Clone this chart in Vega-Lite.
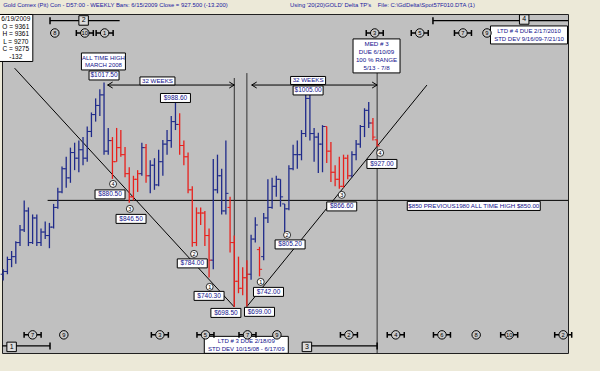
{
"$schema":"https://vega.github.io/schema/vega-lite/v6.json",
"width":566,"height":339,
"autosize":{"type":"none"},
"padding":{"left":2,"top":14,"right":32,"bottom":18},
"background":"#ece9d8",
"config":{"view":{"fill":"#c0c0c0","stroke":"#202020"},"font":"Liberation Sans"},
"datasets":{
"ohlc":[
{"date":"2007-10-05","open":745,"high":752,"low":736,"close":749,"trend":"up"},
{"date":"2007-10-12","open":749,"high":770,"low":745,"close":766,"trend":"up"},
{"date":"2007-10-19","open":766,"high":778,"low":755,"close":770,"trend":"up"},
{"date":"2007-10-26","open":770,"high":792,"low":760,"close":790,"trend":"up"},
{"date":"2007-11-02","open":790,"high":815,"low":785,"close":808,"trend":"up"},
{"date":"2007-11-09","open":808,"high":850,"low":805,"close":835,"trend":"up"},
{"date":"2007-11-16","open":835,"high":840,"low":785,"close":790,"trend":"up"},
{"date":"2007-11-23","open":790,"high":830,"low":788,"close":825,"trend":"up"},
{"date":"2007-11-30","open":825,"high":830,"low":785,"close":790,"trend":"up"},
{"date":"2007-12-07","open":790,"high":810,"low":785,"close":805,"trend":"up"},
{"date":"2007-12-14","open":805,"high":820,"low":795,"close":800,"trend":"up"},
{"date":"2007-12-21","open":800,"high":818,"low":782,"close":812,"trend":"up"},
{"date":"2007-12-28","open":812,"high":845,"low":810,"close":840,"trend":"up"},
{"date":"2008-01-04","open":840,"high":868,"low":838,"close":862,"trend":"up"},
{"date":"2008-01-11","open":862,"high":898,"low":860,"close":895,"trend":"up"},
{"date":"2008-01-18","open":895,"high":912,"low":868,"close":882,"trend":"up"},
{"date":"2008-01-25","open":882,"high":925,"low":875,"close":918,"trend":"up"},
{"date":"2008-02-01","open":918,"high":932,"low":893,"close":910,"trend":"up"},
{"date":"2008-02-08","open":910,"high":935,"low":890,"close":922,"trend":"up"},
{"date":"2008-02-15","open":922,"high":940,"low":900,"close":910,"trend":"up"},
{"date":"2008-02-22","open":910,"high":955,"low":905,"close":948,"trend":"up"},
{"date":"2008-02-29","open":948,"high":975,"low":940,"close":972,"trend":"up"},
{"date":"2008-03-07","open":972,"high":995,"low":962,"close":985,"trend":"up"},
{"date":"2008-03-14","open":985,"high":1008,"low":970,"close":1000,"trend":"up"},
{"date":"2008-03-21","open":1000,"high":1017.5,"low":915,"close":920,"trend":"up"},
{"date":"2008-03-28","open":920,"high":953,"low":915,"close":935,"trend":"up"},
{"date":"2008-04-04","open":935,"high":940,"low":880.5,"close":905,"trend":"down"},
{"date":"2008-04-11","open":905,"high":953,"low":905,"close":925,"trend":"down"},
{"date":"2008-04-18","open":925,"high":950,"low":912,"close":915,"trend":"down"},
{"date":"2008-04-25","open":915,"high":926,"low":883,"close":888,"trend":"down"},
{"date":"2008-05-02","open":888,"high":897,"low":846.5,"close":855,"trend":"down"},
{"date":"2008-05-09","open":855,"high":885,"low":850,"close":880,"trend":"down"},
{"date":"2008-05-16","open":880,"high":893,"low":862,"close":888,"trend":"down"},
{"date":"2008-05-23","open":888,"high":932,"low":885,"close":925,"trend":"up"},
{"date":"2008-05-30","open":925,"high":930,"low":875,"close":885,"trend":"down"},
{"date":"2008-06-06","open":885,"high":907,"low":860,"close":900,"trend":"up"},
{"date":"2008-06-13","open":900,"high":910,"low":865,"close":872,"trend":"up"},
{"date":"2008-06-20","open":872,"high":922,"low":870,"close":905,"trend":"up"},
{"date":"2008-06-27","open":905,"high":936,"low":885,"close":930,"trend":"up"},
{"date":"2008-07-04","open":930,"high":950,"low":915,"close":935,"trend":"up"},
{"date":"2008-07-11","open":935,"high":970,"low":925,"close":962,"trend":"up"},
{"date":"2008-07-18","open":962,"high":988.6,"low":950,"close":958,"trend":"up"},
{"date":"2008-07-25","open":958,"high":974,"low":915,"close":928,"trend":"down"},
{"date":"2008-08-01","open":928,"high":935,"low":900,"close":912,"trend":"down"},
{"date":"2008-08-08","open":912,"high":918,"low":860,"close":865,"trend":"down"},
{"date":"2008-08-15","open":865,"high":870,"low":784,"close":790,"trend":"down"},
{"date":"2008-08-22","open":790,"high":840,"low":785,"close":832,"trend":"down"},
{"date":"2008-08-29","open":832,"high":840,"low":815,"close":832,"trend":"down"},
{"date":"2008-09-05","open":832,"high":835,"low":785,"close":800,"trend":"down"},
{"date":"2008-09-12","open":800,"high":810,"low":740.3,"close":765,"trend":"down"},
{"date":"2008-09-19","open":765,"high":909,"low":752,"close":865,"trend":"up"},
{"date":"2008-09-26","open":865,"high":915,"low":860,"close":885,"trend":"up"},
{"date":"2008-10-03","open":885,"high":895,"low":830,"close":835,"trend":"up"},
{"date":"2008-10-10","open":835,"high":935,"low":830,"close":860,"trend":"up"},
{"date":"2008-10-17","open":840,"high":855,"low":776,"close":790,"trend":"down"},
{"date":"2008-10-24","open":790,"high":800,"low":698.5,"close":735,"trend":"down"},
{"date":"2008-10-31","open":735,"high":770,"low":718,"close":725,"trend":"down"},
{"date":"2008-11-07","open":725,"high":755,"low":715,"close":740,"trend":"down"},
{"date":"2008-11-14","open":740,"high":765,"low":699,"close":745,"trend":"down"},
{"date":"2008-11-21","open":745,"high":801,"low":737,"close":795,"trend":"up"},
{"date":"2008-11-28","open":795,"high":826,"low":790,"close":815,"trend":"up"},
{"date":"2008-12-05","open":780,"high":784,"low":742,"close":752,"trend":"down"},
{"date":"2008-12-12","open":770,"high":832,"low":765,"close":825,"trend":"up"},
{"date":"2008-12-19","open":825,"high":880,"low":818,"close":840,"trend":"up"},
{"date":"2008-12-26","open":840,"high":882,"low":838,"close":870,"trend":"up"},
{"date":"2009-01-02","open":870,"high":885,"low":855,"close":880,"trend":"up"},
{"date":"2009-01-09","open":880,"high":880,"low":841,"close":855,"trend":"up"},
{"date":"2009-01-16","open":845,"high":845,"low":805.2,"close":838,"trend":"up"},
{"date":"2009-01-23","open":838,"high":900,"low":836,"close":895,"trend":"up"},
{"date":"2009-01-30","open":895,"high":929,"low":893,"close":915,"trend":"up"},
{"date":"2009-02-06","open":915,"high":935,"low":895,"close":915,"trend":"up"},
{"date":"2009-02-13","open":915,"high":950,"low":907,"close":945,"trend":"up"},
{"date":"2009-02-20","open":945,"high":1005,"low":940,"close":995,"trend":"up"},
{"date":"2009-02-27","open":995,"high":1000,"low":935,"close":945,"trend":"up"},
{"date":"2009-03-06","open":945,"high":953,"low":905,"close":940,"trend":"up"},
{"date":"2009-03-13","open":940,"high":946,"low":889,"close":930,"trend":"up"},
{"date":"2009-03-20","open":930,"high":957,"low":890,"close":955,"trend":"up"},
{"date":"2009-03-27","open":955,"high":955,"low":903,"close":920,"trend":"down"},
{"date":"2009-04-03","open":920,"high":933,"low":876,"close":890,"trend":"down"},
{"date":"2009-04-10","open":890,"high":900,"low":870,"close":880,"trend":"down"},
{"date":"2009-04-17","open":880,"high":912,"low":866.6,"close":870,"trend":"down"},
{"date":"2009-04-24","open":870,"high":915,"low":868,"close":910,"trend":"down"},
{"date":"2009-05-01","open":910,"high":915,"low":880,"close":885,"trend":"down"},
{"date":"2009-05-08","open":885,"high":920,"low":883,"close":915,"trend":"up"},
{"date":"2009-05-15","open":915,"high":936,"low":907,"close":930,"trend":"up"},
{"date":"2009-05-22","open":930,"high":957,"low":925,"close":955,"trend":"up"},
{"date":"2009-05-29","open":955,"high":981,"low":940,"close":978,"trend":"up"},
{"date":"2009-06-05","open":978,"high":990,"low":953,"close":960,"trend":"up"},
{"date":"2009-06-12","open":960,"high":967,"low":935,"close":940,"trend":"down"},
{"date":"2009-06-19","open":936.1,"high":936.1,"low":927,"close":927.5,"trend":"down"}
],
"pivotLabels":[
{"label":"$1017.50","date":"2008-03-21","price":1027.6},
{"label":"$988.60","date":"2008-07-18","price":995.6},
{"label":"$880.50","date":"2008-03-31","price":858.5},
{"label":"$846.50","date":"2008-05-05","price":823.7},
{"label":"$784.00","date":"2008-08-15","price":760.4},
{"label":"$740.30","date":"2008-09-12","price":714.2},
{"label":"$698.50","date":"2008-10-10","price":690.0},
{"label":"$699.00","date":"2008-12-05","price":691.5},
{"label":"$742.00","date":"2008-12-20","price":719.9},
{"label":"$805.20","date":"2009-01-25","price":787.4},
{"label":"$866.60","date":"2009-04-21","price":841.4},
{"label":"$927.00","date":"2009-06-27","price":901.8},
{"label":"$1005.00","date":"2009-02-24","price":1006.3}
],
"pivots":[
{"n":"4","date":"2008-04-05","price":873.4},
{"n":"3","date":"2008-05-03","price":837.9},
{"n":"2","date":"2008-08-18","price":773.9},
{"n":"1","date":"2008-09-13","price":727.0},
{"n":"1","date":"2008-12-07","price":734.1},
{"n":"2","date":"2009-01-20","price":800.9},
{"n":"3","date":"2009-04-21","price":857.8},
{"n":"4","date":"2009-06-24","price":917.5}
],
"notes":[
{"id":"ath","lines":2,"text":"ALL TIME HIGH\nMARCH 2008","date":"2008-03-20","price":1047.5},
{"id":"weeks","lines":1,"text":"32 WEEKS","date":"2008-06-18","price":1019.8},
{"id":"weeks","lines":1,"text":"32 WEEKS","date":"2009-02-24","price":1020.5},
{"id":"med","lines":4,"text":"MED # 3\nDUE 6/10/09\n100 % RANGE\n5/13 - 7/8","date":"2009-06-18","price":1055.4},
{"id":"ltd4","lines":2,"text":"LTD # 4 DUE 2/17/2010\nSTD DEV 9/16/09-7/21/10","date":"2010-02-27","price":1085.2},
{"id":"ltd3","lines":2,"text":"LTD # 3 DUE 2/18/09\nSTD DEV 10/15/08 - 6/17/09","date":"2008-11-13","price":644.6},
{"id":"prev","lines":1,"text":"$850 PREVIOUS1980 ALL TIME HIGH $850.00","date":"2009-11-27","price":842.1}
],
"info":[{"text":"6/19/2009\nO = 9361\nH = 9361\nL = 9270\nC = 9275\n-132","date":"2007-10-26","price":1080.9}],
"header":[
{"text":"Gold Comex (Pit) Con - D57:00 - WEEKLY Bars: 6/15/2009 Close = 927.500 (-13.200)","date":"2007-10-05","price":1127.8},
{"text":"Using '20(20)GOLD' Delta TP's","date":"2009-01-25","price":1127.8},
{"text":"File: C:\\GdDelta\\Spot57F010.DTA (1)","date":"2009-06-20","price":1127.8}
],
"trendlines":[
{"leg":"decline","date":"2007-10-24","price":1038},
{"leg":"decline","date":"2008-10-24","price":698.5},
{"leg":"advance","date":"2008-11-14","price":699},
{"leg":"advance","date":"2009-09-10","price":1014}
],
"levels":[{"date":"2007-12-18","date2":"2010-05-03","price":850}],
"verticals":[
{"date":"2008-10-24","price":1024,"price2":698.5},
{"date":"2008-11-14","price":1031,"price2":699},
{"date":"2009-06-19","price":1032,"price2":633}
],
"spans":[
{"date":"2008-03-27","date2":"2008-10-24","price":1014},
{"date":"2008-11-22","date2":"2009-06-19","price":1014}
],
"arrowHeads":[
{"date":"2008-03-27","price":1014,"dir":"left"},
{"date":"2008-10-24","price":1014,"dir":"right"},
{"date":"2008-11-22","price":1014,"dir":"left"},
{"date":"2009-06-19","price":1014,"dir":"right"}
],
"cycles":[
{"n":"8","date":"2007-12-30","price":1088,"kind":"mark"},
{"n":"10","date":"2008-02-18","price":1088,"kind":"span"},
{"n":"1","date":"2008-03-22","price":1088,"kind":"span"},
{"n":"3","date":"2009-06-15","price":1088,"kind":"span"},
{"n":"5","date":"2009-08-29","price":1088,"kind":"span"},
{"n":"7","date":"2009-11-09","price":1088,"kind":"span"},
{"n":"9","date":"2009-12-19","price":1088,"kind":"mark"},
{"n":"7","date":"2007-11-23","price":658.8,"kind":"span"},
{"n":"9","date":"2008-01-14","price":658.8,"kind":"mark"},
{"n":"3","date":"2008-06-22","price":658.8,"kind":"span"},
{"n":"5","date":"2008-09-06","price":658.8,"kind":"span"},
{"n":"7","date":"2008-11-15","price":658.8,"kind":"span"},
{"n":"9","date":"2009-01-03","price":658.8,"kind":"mark"},
{"n":"2","date":"2009-05-03","price":658.8,"kind":"span"},
{"n":"4","date":"2009-07-20","price":658.8,"kind":"span"},
{"n":"6","date":"2009-10-05","price":658.8,"kind":"span"},
{"n":"8","date":"2009-12-01","price":658.8,"kind":"mark"},
{"n":"10","date":"2010-01-25","price":658.8,"kind":"span"},
{"n":"2","date":"2010-04-25","price":658.8,"kind":"span"}
],
"cycleBoxes":[
{"n":"2","date":"2008-02-16","price":1105.8},
{"n":"4","date":"2010-02-19","price":1107.2},
{"n":"1","date":"2007-10-19","price":641.7},
{"n":"3","date":"2009-02-22","price":641.7}
],
"cycleRanges":[
{"date":"2007-12-22","date2":"2008-04-16","price":1105.5},
{"date":"2009-09-20","date2":"2010-05-03","price":1105.5},
{"date":"2007-10-03","date2":"2007-12-22","price":643.1},
{"date":"2009-02-22","date2":"2009-06-19","price":643.1}
],
"rangeEnds":[
{"date":"2007-12-22","price":1105.5},
{"date":"2009-09-20","price":1105.5},
{"date":"2007-12-22","price":643.1},
{"date":"2009-06-19","price":643.1}
]
},
"layer":[
{"data":{"name":"levels"},"mark":{"type":"rule","color":"#000000","strokeWidth":1},
 "encoding":{
  "x":{"field":"date","type":"temporal","scale":{"type":"utc","domain":[{"year":2007,"month":10,"date":3,"utc":true},{"year":2010,"month":5,"date":3,"utc":true}]},"axis":null},
  "x2":{"field":"date2"},
  "y":{"field":"price","type":"quantitative","scale":{"domain":[633,1115],"nice":false,"zero":false},"axis":null}}},
{"data":{"name":"trendlines"},"mark":{"type":"line","color":"#000000","strokeWidth":1},
 "encoding":{
  "x":{"field":"date","type":"temporal","axis":null},
  "y":{"field":"price","type":"quantitative","axis":null},
  "detail":{"field":"leg"}}},
{"data":{"name":"verticals"},"mark":{"type":"rule","color":"#303030","strokeWidth":1},
 "encoding":{
  "x":{"field":"date","type":"temporal","axis":null},
  "y":{"field":"price","type":"quantitative","axis":null},
  "y2":{"field":"price2"}}},
{"data":{"name":"spans"},"mark":{"type":"rule","color":"#000000","strokeWidth":1},
 "encoding":{
  "x":{"field":"date","type":"temporal","axis":null},
  "x2":{"field":"date2"},
  "y":{"field":"price","type":"quantitative","axis":null}}},
{"data":{"name":"arrowHeads"},"mark":{"type":"point","filled":false,"stroke":"#000000","strokeWidth":1,"size":25,"opacity":1},
 "encoding":{
  "x":{"field":"date","type":"temporal","axis":null},
  "y":{"field":"price","type":"quantitative","axis":null},
  "shape":{"field":"dir","type":"nominal","scale":{"domain":["left","right"],"range":["M2,-1.2L0,0L2,1.2","M-2,-1.2L0,0L-2,1.2"]},"legend":null}}},
{"data":{"name":"ohlc"},"mark":{"type":"rule","strokeWidth":1.3},
 "encoding":{
  "x":{"field":"date","type":"temporal","axis":{"orient":"bottom","values":[{"year":2007,"month":10,"date":5,"utc":true},{"year":2007,"month":11,"date":30,"utc":true},{"year":2008,"month":2,"date":1,"utc":true},{"year":2008,"month":3,"date":28,"utc":true},{"year":2008,"month":5,"date":23,"utc":true},{"year":2008,"month":7,"date":18,"utc":true},{"year":2008,"month":9,"date":12,"utc":true},{"year":2008,"month":11,"date":7,"utc":true},{"year":2009,"month":1,"date":2,"utc":true},{"year":2009,"month":2,"date":27,"utc":true},{"year":2009,"month":4,"date":24,"utc":true},{"year":2009,"month":6,"date":19,"utc":true},{"year":2009,"month":8,"date":14,"utc":true},{"year":2009,"month":10,"date":9,"utc":true},{"year":2009,"month":12,"date":4,"utc":true},{"year":2010,"month":1,"date":29,"utc":true},{"year":2010,"month":3,"date":26,"utc":true}],"format":"%-m/%-d/%Y","labelFontSize":7.5,"labelColor":"#000000","ticks":false,"tickSize":0,"domain":false,"grid":false,"labelPadding":4,"title":null,"labelOverlap":false,"labelBound":false,"labelFlush":false}},
  "y":{"field":"low","type":"quantitative","axis":{"orient":"right","values":[700,720,740,760,780,800,820,840,860,880,900,920,940,960,980,1000,1020,1040,1060],"format":",","labelFontSize":7.5,"labelColor":"#000000","tickSize":3,"tickColor":"#000000","domain":false,"grid":false,"labelPadding":2,"title":"Price","titleFontSize":7.5,"titleFontWeight":"normal","titleColor":"#000000","titlePadding":3}},
  "y2":{"field":"high"},
  "color":{"field":"trend","type":"nominal","scale":{"domain":["up","down"],"range":["#1f2a8a","#e8201c"]},"legend":null}}},
{"data":{"name":"ohlc"},"mark":{"type":"tick","orient":"horizontal","size":2.6,"thickness":1,"xOffset":-1.3,"opacity":1},
 "encoding":{
  "x":{"field":"date","type":"temporal","axis":null},
  "y":{"field":"open","type":"quantitative","axis":null},
  "color":{"field":"trend","type":"nominal","legend":null}}},
{"data":{"name":"ohlc"},"mark":{"type":"tick","orient":"horizontal","size":2.6,"thickness":1,"xOffset":1.3,"opacity":1},
 "encoding":{
  "x":{"field":"date","type":"temporal","axis":null},
  "y":{"field":"close","type":"quantitative","axis":null},
  "color":{"field":"trend","type":"nominal","legend":null}}},
{"data":{"name":"pivotLabels"},"mark":{"type":"point","shape":"M-1,-0.3H1V0.3H-1Z","size":900,"fill":"#ffffff","stroke":"#000000","strokeWidth":1,"opacity":1,"fillOpacity":1},
 "encoding":{
  "x":{"field":"date","type":"temporal","axis":null},
  "y":{"field":"price","type":"quantitative","axis":null}}},
{"data":{"name":"pivotLabels"},"mark":{"type":"text","fontSize":6.5,"color":"#10108c","align":"center","baseline":"middle"},
 "encoding":{
  "x":{"field":"date","type":"temporal","axis":null},
  "y":{"field":"price","type":"quantitative","axis":null},
  "text":{"field":"label"}}},
{"data":{"name":"pivots"},"mark":{"type":"point","shape":"circle","size":49,"fill":"#ffffff","stroke":"#000000","strokeWidth":0.8,"opacity":1,"fillOpacity":1},
 "encoding":{
  "x":{"field":"date","type":"temporal","axis":null},
  "y":{"field":"price","type":"quantitative","axis":null}}},
{"data":{"name":"pivots"},"mark":{"type":"text","fontSize":5.5,"color":"#000000","align":"center","baseline":"middle"},
 "encoding":{
  "x":{"field":"date","type":"temporal","axis":null},
  "y":{"field":"price","type":"quantitative","axis":null},
  "text":{"field":"n"}}},
{"data":{"name":"notes"},"transform":[{"filter":"datum.id==='ath'"}],"mark":{"type":"point","shape":"M-1,-0.386H1V0.386H-1Z","size":1936,"fill":"#ffffff","stroke":"#000000","strokeWidth":1,"opacity":1,"fillOpacity":1},
 "encoding":{"x":{"field":"date","type":"temporal","axis":null},"y":{"field":"price","type":"quantitative","axis":null}}},
{"data":{"name":"notes"},"transform":[{"filter":"datum.id==='weeks'"}],"mark":{"type":"point","shape":"M-1,-0.229H1V0.229H-1Z","size":1225,"fill":"#ffffff","stroke":"#000000","strokeWidth":1,"opacity":1,"fillOpacity":1},
 "encoding":{"x":{"field":"date","type":"temporal","axis":null},"y":{"field":"price","type":"quantitative","axis":null}}},
{"data":{"name":"notes"},"transform":[{"filter":"datum.id==='med'"}],"mark":{"type":"point","shape":"M-1,-0.723H1V0.723H-1Z","size":2209,"fill":"#ffffff","stroke":"#000000","strokeWidth":1,"opacity":1,"fillOpacity":1},
 "encoding":{"x":{"field":"date","type":"temporal","axis":null},"y":{"field":"price","type":"quantitative","axis":null}}},
{"data":{"name":"notes"},"transform":[{"filter":"datum.id==='ltd4'"}],"mark":{"type":"point","shape":"M-1,-0.234H1V0.234H-1Z","size":5929,"fill":"#ffffff","stroke":"#000000","strokeWidth":1,"opacity":1,"fillOpacity":1},
 "encoding":{"x":{"field":"date","type":"temporal","axis":null},"y":{"field":"price","type":"quantitative","axis":null}}},
{"data":{"name":"notes"},"transform":[{"filter":"datum.id==='ltd3'"}],"mark":{"type":"point","shape":"M-1,-0.202H1V0.202H-1Z","size":7056,"fill":"#ffffff","stroke":"#000000","strokeWidth":1,"opacity":1,"fillOpacity":1},
 "encoding":{"x":{"field":"date","type":"temporal","axis":null},"y":{"field":"price","type":"quantitative","axis":null}}},
{"data":{"name":"notes"},"transform":[{"filter":"datum.id==='prev'"}],"mark":{"type":"point","shape":"M-1,-0.068H1V0.068H-1Z","size":17689,"fill":"#ffffff","stroke":"#000000","strokeWidth":1,"opacity":1,"fillOpacity":1},
 "encoding":{"x":{"field":"date","type":"temporal","axis":null},"y":{"field":"price","type":"quantitative","axis":null}}},
{"data":{"name":"notes"},"transform":[{"filter":"datum.lines===1"}],"mark":{"type":"text","fontSize":6.2,"color":"#10108c","align":"center","baseline":"middle"},
 "encoding":{
  "x":{"field":"date","type":"temporal","axis":null},
  "y":{"field":"price","type":"quantitative","axis":null},
  "text":{"field":"text"}}},
{"data":{"name":"notes"},"transform":[{"filter":"datum.lines===2"}],"mark":{"type":"text","fontSize":6.0,"color":"#10108c","align":"center","baseline":"middle","lineBreak":"\n","lineHeight":7.8,"dy":-3.9},
 "encoding":{
  "x":{"field":"date","type":"temporal","axis":null},
  "y":{"field":"price","type":"quantitative","axis":null},
  "text":{"field":"text"}}},
{"data":{"name":"notes"},"transform":[{"filter":"datum.lines===4"}],"mark":{"type":"text","fontSize":6.2,"color":"#10108c","align":"center","baseline":"middle","lineBreak":"\n","lineHeight":7.8,"dy":-11.7},
 "encoding":{
  "x":{"field":"date","type":"temporal","axis":null},
  "y":{"field":"price","type":"quantitative","axis":null},
  "text":{"field":"text"}}},
{"data":{"name":"info"},"mark":{"type":"point","shape":"M-1,-1.382H1V1.382H-1Z","size":1156,"fill":"#ffffff","stroke":"#000000","strokeWidth":1,"opacity":1,"fillOpacity":1},
 "encoding":{"x":{"field":"date","type":"temporal","axis":null},"y":{"field":"price","type":"quantitative","axis":null}}},
{"data":{"name":"info"},"mark":{"type":"text","fontSize":6.5,"color":"#000000","align":"center","baseline":"middle","lineBreak":"\n","lineHeight":7.6,"dy":-19},
 "encoding":{
  "x":{"field":"date","type":"temporal","axis":null},
  "y":{"field":"price","type":"quantitative","axis":null},
  "text":{"field":"text"}}},
{"data":{"name":"header"},"mark":{"type":"text","fontSize":5.9,"color":"#1818a0","align":"left","baseline":"middle"},
 "encoding":{
  "x":{"field":"date","type":"temporal","axis":null},
  "y":{"field":"price","type":"quantitative","axis":null},
  "text":{"field":"text"}}},
{"data":{"name":"cycleRanges"},"mark":{"type":"rule","color":"#000000","strokeWidth":1.2},
 "encoding":{
  "x":{"field":"date","type":"temporal","axis":null},
  "x2":{"field":"date2"},
  "y":{"field":"price","type":"quantitative","axis":null}}},
{"data":{"name":"rangeEnds"},"mark":{"type":"tick","orient":"vertical","size":7,"thickness":1.5,"color":"#000000","opacity":1},
 "encoding":{
  "x":{"field":"date","type":"temporal","axis":null},
  "y":{"field":"price","type":"quantitative","axis":null}}},
{"data":{"name":"cycleBoxes"},"mark":{"type":"point","shape":"square","size":90,"fill":"#dcdcdc","stroke":"#000000","strokeWidth":1,"opacity":1,"fillOpacity":1},
 "encoding":{"x":{"field":"date","type":"temporal","axis":null},"y":{"field":"price","type":"quantitative","axis":null}}},
{"data":{"name":"cycleBoxes"},"mark":{"type":"text","fontSize":7,"color":"#000000","align":"center","baseline":"middle"},
 "encoding":{"x":{"field":"date","type":"temporal","axis":null},"y":{"field":"price","type":"quantitative","axis":null},"text":{"field":"n"}}},
{"data":{"name":"cycles"},"transform":[{"filter":"datum.kind==='span'"}],"mark":{"type":"point","shape":"M-1,-0.35V0.35M-1,0H-0.47M0.47,0H1M1,-0.35V0.35","size":289,"filled":false,"stroke":"#000000","strokeWidth":1.5,"opacity":1},
 "encoding":{"x":{"field":"date","type":"temporal","axis":null},"y":{"field":"price","type":"quantitative","axis":null}}},
{"data":{"name":"cycles"},"mark":{"type":"point","shape":"circle","size":72,"fill":"#c8c8c8","stroke":"#000000","strokeWidth":1,"opacity":1,"fillOpacity":1},
 "encoding":{"x":{"field":"date","type":"temporal","axis":null},"y":{"field":"price","type":"quantitative","axis":null}}},
{"data":{"name":"cycles"},"mark":{"type":"text","fontSize":5.8,"color":"#000000","align":"center","baseline":"middle"},
 "encoding":{"x":{"field":"date","type":"temporal","axis":null},"y":{"field":"price","type":"quantitative","axis":null},"text":{"field":"n"}}}
]
}
